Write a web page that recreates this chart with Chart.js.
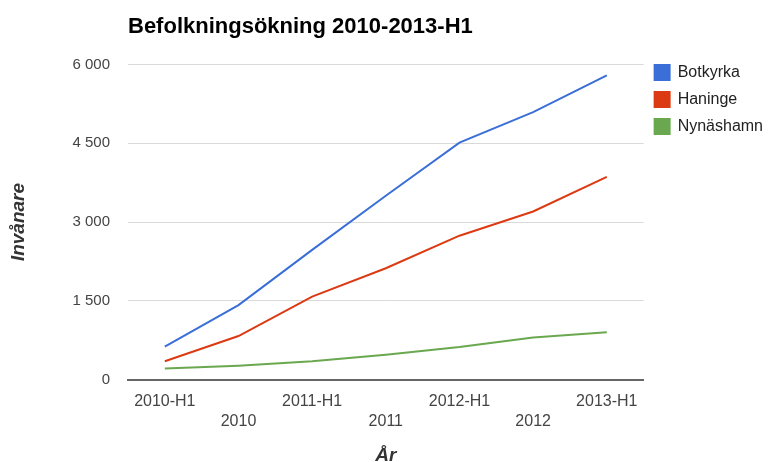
<!DOCTYPE html>
<html>
<head>
<meta charset="utf-8">
<script src="https://cdn.jsdelivr.net/npm/chart.js@4"></script>
<style>
  html, body { margin: 0; padding: 0; background: #fff; }
  #wrap { width: 775px; height: 462px; }
</style>
</head>
<body>
<div id="wrap"><canvas id="popChart"></canvas></div>
<script>
// data
const periods = ['2010-H1', '2010', '2011-H1', '2011', '2012-H1', '2012', '2013-H1'];
const botkyrka = [630, 1420, 2470, 3500, 4510, 5090, 5790];
const haninge = [350, 830, 1580, 2120, 2740, 3200, 3860];
const nynashamn = [210, 265, 350, 475, 620, 800, 900];
const yTicks = [0, 1500, 3000, 4500, 6000];

function fmt(v) {
    return String(v).replace(/\B(?=(\d{3})+(?!\d))/g, ' ');
}

const ctx = document.getElementById('popChart').getContext('2d');

window.popChartInstance = new Chart(ctx, {
    type: 'line',
    data: {
        labels: periods,
        datasets: [
            {
                label: 'Botkyrka',
                data: botkyrka,
                borderColor: '#3a6fd8',
                backgroundColor: '#3a6fd8',
                borderWidth: 2,
                pointRadius: 0,
                tension: 0
            },
            {
                label: 'Haninge',
                data: haninge,
                borderColor: '#dc3a12',
                backgroundColor: '#dc3a12',
                borderWidth: 2,
                pointRadius: 0,
                tension: 0
            },
            {
                label: 'Nynäshamn',
                data: nynashamn,
                borderColor: '#6aa84f',
                backgroundColor: '#6aa84f',
                borderWidth: 2,
                pointRadius: 0,
                tension: 0
            }
        ]
    },
    options: {
        responsive: true,
        maintainAspectRatio: false,
        animation: false,
        layout: {
            padding: { left: 0, right: 2, top: 0, bottom: 0 }
        },
        plugins: {
            title: {
                display: true,
                text: 'Befolkningsökning 2010-2013-H1',
                align: 'start',
                fullSize: false,
                color: '#000',
                font: { family: 'Liberation Sans, Arial', size: 22, weight: 'bold' },
                padding: { top: 14, bottom: 24 }
            },
            legend: {
                position: 'right',
                align: 'start',
                title: {
                    display: true,
                    text: ' ',
                    font: { size: 12 },
                    padding: { top: 39, bottom: 0 }
                },
                labels: {
                    boxWidth: 15,
                    boxHeight: 15,
                    padding: 11,
                    color: '#222',
                    font: { family: 'Liberation Sans, Arial', size: 16 }
                }
            },
            tooltip: { enabled: false }
        },
        scales: {
            x: {
                offset: true,
                grid: { display: false, drawTicks: false },
                border: { display: true, color: '#666', width: 2 },
                ticks: {
                    color: '#444',
                    padding: 12,
                    maxRotation: 0,
                    autoSkip: false,
                    font: { family: 'Liberation Sans, Arial', size: 16, lineHeight: 1.25 },
                    callback: function(value, index) {
                        const lbl = periods[index];
                        return index % 2 === 1 ? ['', lbl] : lbl;
                    }
                },
                title: {
                    display: true,
                    text: 'År',
                    color: '#333',
                    font: { family: 'Liberation Sans, Arial', size: 19, weight: 'bold', style: 'italic', lineHeight: 0.65 },
                    padding: { top: 6, bottom: 0 }
                }
            },
            y: {
                min: 0,
                max: 6000,
                afterBuildTicks: function(scale) {
                    scale.ticks = yTicks.map(v => ({ value: v }));
                },
                afterFit: function(scale) {
                    scale.width = 128;
                },
                grid: { color: '#d9d9d9', drawTicks: false },
                border: { display: false },
                ticks: {
                    color: '#444',
                    padding: 18,
                    font: { family: 'Liberation Sans, Arial', size: 15 },
                    callback: function(value) {
                        return fmt(value);
                    }
                },
                title: {
                    display: true,
                    text: 'Invånare',
                    color: '#333',
                    font: { family: 'Liberation Sans, Arial', size: 19, weight: 'bold', style: 'italic' },
                    padding: { top: 7, bottom: 0 }
                }
            }
        }
    }
});
</script>
</body>
</html>
